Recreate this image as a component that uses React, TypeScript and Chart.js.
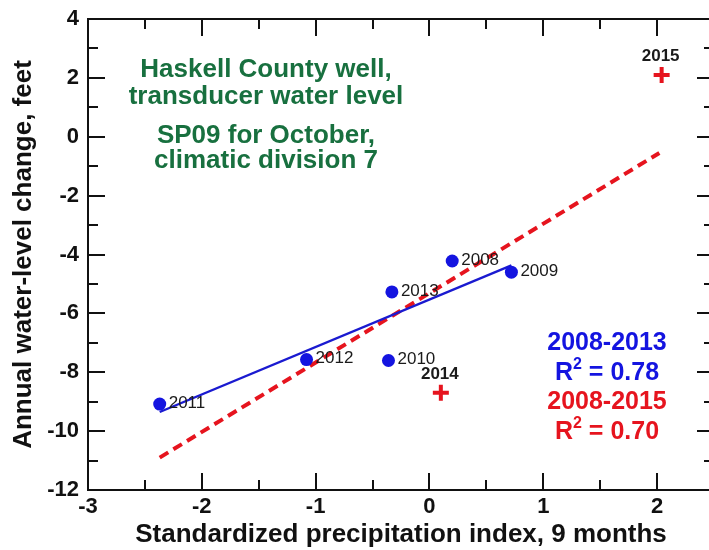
import React, { useEffect, useRef } from "react";
import { Chart, registerables } from "chart.js";

Chart.register(...registerables);

// ---- data ----
const yearsBlue = ["2008", "2009", "2010", "2011", "2012", "2013"];
const spiBlue = [0.2, 0.72, -0.36, -2.37, -1.08, -0.33];
const changeBlue = [-4.22, -4.6, -7.6, -9.08, -7.57, -5.27];

const yearsRed = ["2014", "2015"];
const spiRed = [0.1, 2.04];
const changeRed = [-8.7, 2.1];

const fitBlueX = [-2.37, 0.72];
const fitBlueY = [-9.35, -4.37];
const fitRedX = [-2.37, 2.02];
const fitRedY = [-10.9, -0.55];

const xTicks = [-3, -2, -1, 0, 1, 2];
const yTicks = [4, 2, 0, -2, -4, -6, -8, -10, -12];

const annotationLines = [
  "Haskell County well,",
  "transducer water level",
  "SP09 for October,",
  "climatic division 7",
];
const blueRangeLabel = "2008-2013";
const blueR2 = "0.78";
const redRangeLabel = "2008-2015";
const redR2 = "0.70";

const FONT = "'Liberation Sans', Arial, Helvetica, sans-serif";
const BLUE = "#1414e0";
const BLUE_LINE = "#1a1ad0";
const RED = "#e6141e";
const GREEN = "#18703f";

const framePlugin = {
  id: "framePlugin",
  afterDatasetsDraw(chart: any) {
    const { ctx, chartArea, scales } = chart;
    const xs = scales.x;
    const ys = scales.y;
    const { left, right, top, bottom } = chartArea;
    ctx.save();
    ctx.strokeStyle = "#111";
    ctx.lineWidth = 2;
    ctx.beginPath();
    ctx.rect(left, top, right - left, bottom - top);
    ctx.stroke();

    // inward tick marks
    ctx.beginPath();
    for (let v = Math.ceil(xs.min * 2) / 2; v <= xs.max + 1e-9; v += 0.5) {
      const px = Math.round(xs.getPixelForValue(v));
      const major = Math.abs(v - Math.round(v)) < 1e-9;
      const len = major ? 17 : 10;
      ctx.moveTo(px, bottom);
      ctx.lineTo(px, bottom - len);
      ctx.moveTo(px, top);
      ctx.lineTo(px, top + len);
    }
    for (let v = Math.ceil(ys.min); v <= ys.max + 1e-9; v += 1) {
      const py = Math.round(ys.getPixelForValue(v));
      const major = v % 2 === 0;
      const len = major ? 17 : 10;
      ctx.moveTo(left, py);
      ctx.lineTo(left + len, py);
      ctx.moveTo(right, py);
      ctx.lineTo(right - len, py);
    }
    ctx.stroke();

    // year labels for the 2008-2013 points
    ctx.fillStyle = "#1a1a1a";
    ctx.font = `17px ${FONT}`;
    ctx.textAlign = "left";
    ctx.textBaseline = "middle";
    const m0 = chart.getDatasetMeta(0);
    m0.data.forEach((pt: any, i: number) => {
      ctx.fillText(yearsBlue[i], pt.x + 9, pt.y - 1);
    });
    // year labels for 2014, 2015
    ctx.font = `bold 17px ${FONT}`;
    ctx.textAlign = "center";
    const m1 = chart.getDatasetMeta(1);
    m1.data.forEach((pt: any, i: number) => {
      ctx.fillText(yearsRed[i], pt.x - 1, pt.y - 19);
    });

    // green annotation
    ctx.fillStyle = GREEN;
    ctx.font = `bold 26px ${FONT}`;
    ctx.textAlign = "center";
    const ay = [70, 97, 136, 161];
    annotationLines.forEach((t, i) => ctx.fillText(t, 266, ay[i]));

    // R^2 block
    const cx = 607;
    const drawR2 = (val: string, cy: number, color: string) => {
      ctx.fillStyle = color;
      const big = `bold 25px ${FONT}`;
      const small = `bold 16px ${FONT}`;
      ctx.font = big;
      const wR = ctx.measureText("R").width;
      const rest = " = " + val;
      const wRest = ctx.measureText(rest).width;
      ctx.font = small;
      const w2 = ctx.measureText("2").width;
      const total = wR + w2 + wRest;
      const x0 = cx - total / 2;
      ctx.textAlign = "left";
      ctx.font = big;
      ctx.fillText("R", x0, cy);
      ctx.font = small;
      ctx.fillText("2", x0 + wR, cy - 8);
      ctx.font = big;
      ctx.fillText(rest, x0 + wR + w2, cy);
    };
    ctx.textAlign = "center";
    ctx.font = `bold 25px ${FONT}`;
    ctx.fillStyle = BLUE;
    ctx.fillText(blueRangeLabel, cx, 343);
    drawR2(blueR2, 373, BLUE);
    ctx.textAlign = "center";
    ctx.font = `bold 25px ${FONT}`;
    ctx.fillStyle = RED;
    ctx.fillText(redRangeLabel, cx, 402);
    drawR2(redR2, 432, RED);
    ctx.restore();
  },
};

export default function App() {
  const ref = useRef<HTMLCanvasElement>(null);
  useEffect(() => {
    if (!ref.current) return;
    const chart = new Chart(ref.current, {
      type: "scatter",
      data: {
        datasets: [
          {
            label: "2008-2013",
            data: spiBlue.map((x, i) => ({ x, y: changeBlue[i] })),
            backgroundColor: BLUE,
            borderColor: BLUE,
            pointRadius: 6.5,
            pointBorderWidth: 0,
            order: 0,
          },
          {
            label: "2014-2015",
            data: spiRed.map((x, i) => ({ x, y: changeRed[i] })),
            pointStyle: "cross",
            borderColor: RED,
            backgroundColor: RED,
            pointRadius: 8,
            pointBorderWidth: 4,
            order: 0,
          },
          {
            type: "line",
            label: "fit 2008-2013",
            data: fitBlueX.map((x, i) => ({ x, y: fitBlueY[i] })),
            borderColor: BLUE_LINE,
            borderWidth: 2.4,
            pointRadius: 0,
            showLine: true,
            fill: false,
            order: 2,
          },
          {
            type: "line",
            label: "fit 2008-2015",
            data: fitRedX.map((x, i) => ({ x, y: fitRedY[i] })),
            borderColor: RED,
            borderWidth: 4,
            borderDash: [10, 6],
            pointRadius: 0,
            showLine: true,
            fill: false,
            order: 3,
          },
        ],
      } as any,
      options: {
        animation: false,
        responsive: false,
        events: [],
        layout: { padding: { top: 19, right: 6, left: 0, bottom: 0 } },
        plugins: {
          legend: { display: false },
          tooltip: { enabled: false },
          title: { display: false },
        },
        scales: {
          x: {
            type: "linear",
            min: -3,
            max: 2.5,
            grid: { display: false, drawTicks: false },
            border: { display: false },
            afterBuildTicks: (s: any) => {
              s.ticks = xTicks.map((v) => ({ value: v }));
            },
            afterFit: (s: any) => {
              s.height = 60;
              s.paddingLeft = 0;
              s.paddingRight = 0;
            },
            ticks: {
              color: "#111",
              font: { family: FONT, size: 22, weight: "bold" },
              padding: 4,
              maxRotation: 0,
              callback: (v: any) => String(v),
            },
            title: {
              display: true,
              text: "Standardized precipitation index, 9 months",
              color: "#111",
              font: { family: FONT, size: 26, weight: "bold" },
              padding: { top: 0, bottom: 0 },
            },
          },
          y: {
            type: "linear",
            min: -12,
            max: 4,
            grid: { display: false, drawTicks: false },
            border: { display: false },
            afterBuildTicks: (s: any) => {
              s.ticks = yTicks.map((v) => ({ value: v }));
            },
            afterFit: (s: any) => {
              s.width = 88;
              s.paddingTop = 0;
              s.paddingBottom = 0;
            },
            ticks: {
              color: "#111",
              font: { family: FONT, size: 22, weight: "bold" },
              padding: 9,
              callback: (v: any) => String(v),
            },
            title: {
              display: true,
              text: "Annual water-level change, feet",
              color: "#111",
              font: { family: FONT, size: 26, weight: "bold" },
              padding: { top: 8, bottom: 0 },
            },
          },
        },
      } as any,
      plugins: [framePlugin],
    });
    return () => chart.destroy();
  }, []);
  return (
    <div
      style={{
        position: "absolute",
        left: 0,
        top: 0,
        width: 709,
        height: 550,
        overflow: "hidden",
        background: "#fff",
      }}
    >
      <canvas ref={ref} width={726} height={550} style={{ display: "block" }} />
    </div>
  );
}
